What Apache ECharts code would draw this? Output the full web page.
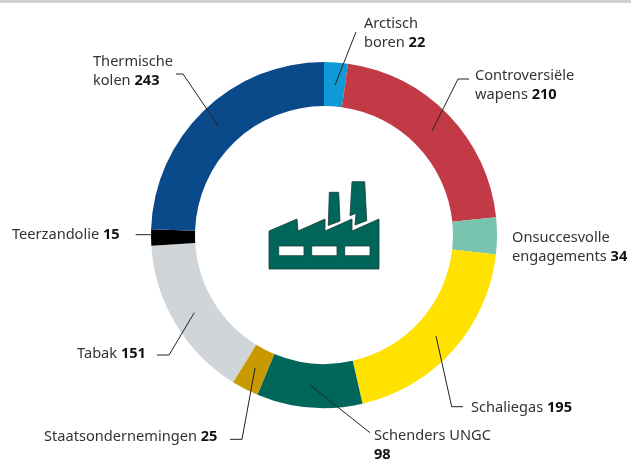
<!DOCTYPE html>
<html><head><meta charset="utf-8">
<style>html,body{margin:0;padding:0;background:#fff;overflow:hidden}#c{width:631px;height:459px}</style>
<script src="https://cdn.jsdelivr.net/npm/echarts@6/dist/echarts.min.js"></script></head>
<body><div id="c"></div>
<script>
const categories = ['Arctisch\nboren','Controversiële\nwapens','Onsuccesvolle\nengagements','Schaliegas','Schenders UNGC\n','Staatsondernemingen','Tabak','Teerzandolie','Thermische\nkolen'];
const values = [22,210,34,195,98,25,151,15,243];
const colors = ['#0f99d6','#c23a46','#78c4ae','#ffe200','#00665a','#c99a00','#d0d5d9','#000000','#0a4a8a'];
const labelAnchors = [[364,15],[475,67],[512,229],[471,398.5],[374,427],[44,428],[77,345],[12,226],[93,53]];
const leaderLines = [
 [[335,85],[356,32]],
 [[432,131],[458,79],[469,79]],
 null,
 [[436,336],[451.7,406.7],[463,406.7]],
 [[310.7,385.7],[370,432.7]],
 [[255,368],[242,439.3],[230,439.3]],
 [[194.3,312.7],[169,355],[157,355]],
 [[135.7,234.7],[153,234.7]],
 [[219,127],[183,74],[176,74]]
];
const chart = echarts.init(document.getElementById('c'),null,{renderer:'canvas'});
const font = '"Noto Sans"';
const iconStyle = {fill:'#00665a',stroke:'#1d3a36',lineWidth:0.8};
const windowStyle = {fill:'#fff',stroke:'#1d3a36',lineWidth:0.8};
const ring = {type:'pie',center:[324,235],radius:[129,173],startAngle:90,clockwise:true,avoidLabelOverlap:false,silent:true};
chart.setOption({
 animation:false,
 graphic:[
  {type:'rect',shape:{x:0,y:0,width:631,height:3},style:{fill:'#cdd2d6'},z:10},
  {type:'polygon',z:10,shape:{points:[[269,269],[269,231],[297,219],[298,231],[325,219],[325,231],[352,219],[352,231],[379,219],[379,269]]},style:iconStyle},
  {type:'rect',z:11,shape:{x:278.7,y:246,width:25.3,height:9.7},style:windowStyle},
  {type:'rect',z:11,shape:{x:311.7,y:246,width:25.3,height:9.7},style:windowStyle},
  {type:'rect',z:11,shape:{x:344.7,y:246,width:25.3,height:9.7},style:windowStyle},
  {type:'polygon',z:10,shape:{points:[[329.3,192.3],[338.7,192.3],[340,221],[328.3,225.5]]},style:iconStyle},
  {type:'polygon',z:10,shape:{points:[[352,181.7],[364.7,181.7],[366.7,220.7],[355,225],[356,213.3],[350,215.7]]},style:iconStyle}
 ],
 series:[
 Object.assign({},ring,{z:2,
  data:categories.map((n,i)=>({name:n,value:values[i],itemStyle:{color:colors[i]}})),
  label:{show:false},labelLine:{show:false}
 }),
 Object.assign({},ring,{z:3,
  data:categories.map((n,i)=>({name:n,value:values[i],itemStyle:{color:'rgba(0,0,0,0)'},labelLine:{show:!!leaderLines[i]}})),
  label:{show:true,position:'outside',
   formatter:p=>{
     const parts=p.name.split('\n');
     const last=parts.pop();
     const head=parts.map(s=>'{n|'+s+'}').join('\n');
     const tail=(last?'{n|'+last+' }':'')+'{b|'+p.value+'}';
     return (head?head+'\n':'')+tail;
   },
   rich:{n:{fontFamily:font,fontSize:14.6,lineHeight:18.5,color:'#333'},b:{fontFamily:font,fontSize:14.6,lineHeight:18.5,fontWeight:'bold',color:'#111'}},
   align:'left',verticalAlign:'top'},
  labelLine:{show:true,lineStyle:{color:'#222',width:1}},
  labelLayout:p=>({x:labelAnchors[p.dataIndex][0],y:labelAnchors[p.dataIndex][1],align:'left',verticalAlign:'top',hideOverlap:false,moveOverlap:null,labelLinePoints:leaderLines[p.dataIndex]||undefined})
 })]
});
</script></body></html>
